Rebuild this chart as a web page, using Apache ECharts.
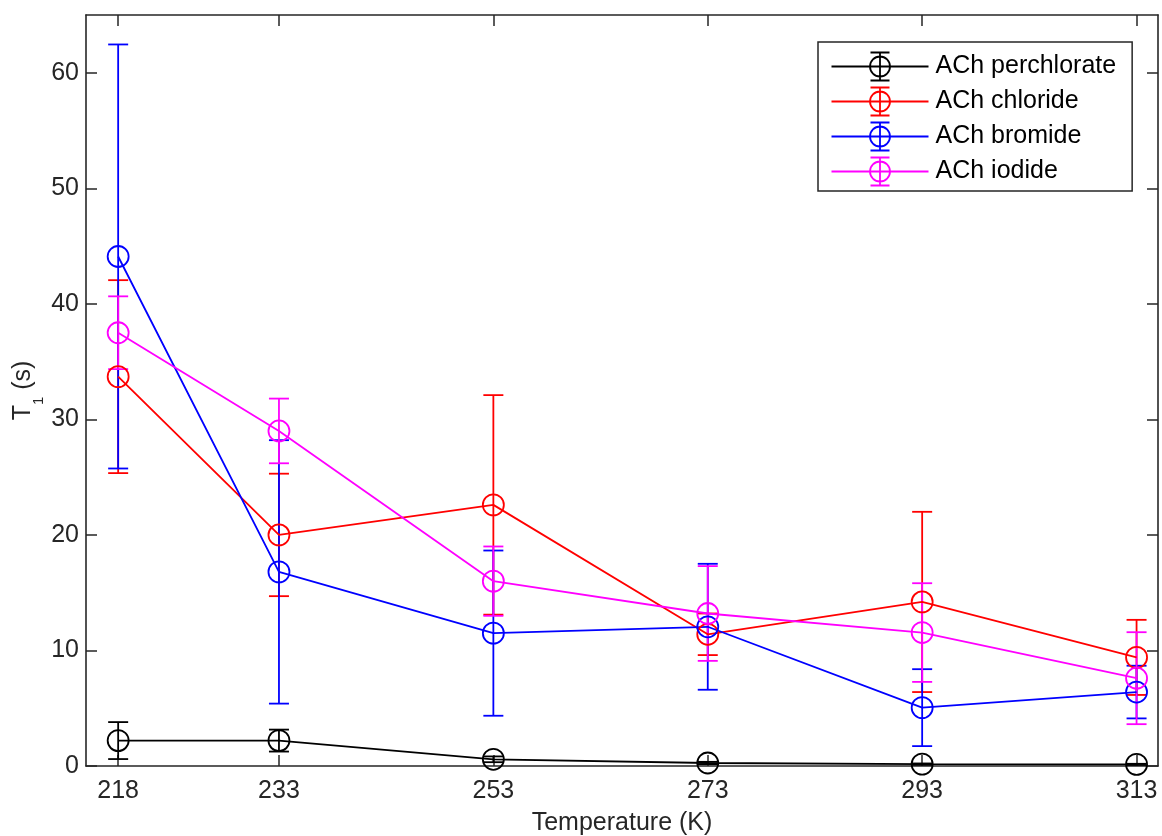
<!DOCTYPE html>
<html>
<head>
<meta charset="utf-8">
<script src="https://cdn.jsdelivr.net/npm/echarts@6/dist/echarts.min.js"></script>
<style>
  html, body { margin: 0; padding: 0; background: #ffffff; }
  #chart { width: 1162px; height: 836px; }
</style>
</head>
<body>
<div id="chart"></div>
<script>
// Spin-lattice relaxation time T1 of acetylcholine salts vs temperature
const temperatures = [218, 233, 253, 273, 293, 313];
const xTickLabels = [218, 233, 253, 273, 293, 313];
const yTickLabels = [0, 10, 20, 30, 40, 50, 60];

const seriesNames = ['ACh perchlorate', 'ACh chloride', 'ACh bromide', 'ACh iodide'];
const seriesColors = ['#000000', '#ff0000', '#0000ff', '#ff00ff'];

const perchlorateT1 = [2.2, 2.2, 0.58, 0.26, 0.16, 0.14];
const perchlorateErr = [1.6, 0.95, 0.25, 0.1, 0.06, 0.05];

const chlorideT1 = [33.7, 20.0, 22.6, 11.4, 14.2, 9.4];
const chlorideErr = [8.35, 5.3, 9.5, 1.8, 7.8, 3.25];

const bromideT1 = [44.1, 16.8, 11.5, 12.05, 5.05, 6.4];
const bromideErr = [18.35, 11.4, 7.15, 5.45, 3.33, 2.28];

const iodideT1 = [37.5, 29.0, 16.0, 13.2, 11.55, 7.6];
const iodideErr = [3.15, 2.8, 3.0, 4.1, 4.27, 3.98];

const seriesValues = [perchlorateT1, chlorideT1, bromideT1, iodideT1];
const seriesErrors = [perchlorateErr, chlorideErr, bromideErr, iodideErr];

const FONT = "'Liberation Sans', Arial, Helvetica, sans-serif";
const AXIS_COLOR = '#262626';
const LINE_W = 1.8;
const CAP_HALF = 10;

// legend glyph: line through a circle with a capped vertical error bar
const legendGlyph = 'path://M0 14 L97 14 M58.5 14 A10 10 0 1 1 38.5 14 A10 10 0 1 1 58.5 14 ' +
  'M48.5 0 L48.5 28 M39 0 L58 0 M39 28 L58 28';

function errorBarSeries(idx) {
  const color = seriesColors[idx];
  const data = temperatures.map((t, i) => [
    t,
    seriesValues[idx][i] - seriesErrors[idx][i],
    seriesValues[idx][i] + seriesErrors[idx][i]
  ]);
  return {
    type: 'custom',
    name: seriesNames[idx] + ' error',
    xAxisIndex: 0,
    yAxisIndex: 0,
    data: data,
    encode: { x: 0, y: [1, 2] },
    silent: true,
    renderItem: function (params, api) {
      const x = api.value(0);
      const lo = api.coord([x, api.value(1)]);
      const hi = api.coord([x, api.value(2)]);
      const style = { stroke: color, lineWidth: LINE_W, fill: 'none' };
      return {
        type: 'group',
        children: [
          { type: 'line', shape: { x1: hi[0], y1: hi[1], x2: lo[0], y2: lo[1] }, style: style },
          { type: 'line', shape: { x1: hi[0] - CAP_HALF, y1: hi[1], x2: hi[0] + CAP_HALF, y2: hi[1] }, style: style },
          { type: 'line', shape: { x1: lo[0] - CAP_HALF, y1: lo[1], x2: lo[0] + CAP_HALF, y2: lo[1] }, style: style }
        ]
      };
    }
  };
}

function lineSeries(idx) {
  const color = seriesColors[idx];
  return {
    type: 'line',
    name: seriesNames[idx],
    xAxisIndex: 0,
    yAxisIndex: 0,
    data: temperatures.map((t, i) => [t, seriesValues[idx][i]]),
    symbol: 'circle',
    symbolSize: 21,
    showAllSymbol: true,
    lineStyle: { color: color, width: LINE_W },
    itemStyle: { color: 'rgba(0,0,0,0)', borderColor: color, borderWidth: LINE_W },
    emphasis: { disabled: true },
    silent: true
  };
}

const series = [];
seriesNames.forEach((n, i) => {
  series.push(errorBarSeries(i));
  series.push(lineSeries(i));
});

const tickStyle = { show: true, inside: true, length: 11, lineStyle: { color: AXIS_COLOR, width: 1.5 } };
const axisLineStyle = { show: true, onZero: false, lineStyle: { color: AXIS_COLOR, width: 1.6 } };

const chart = echarts.init(document.getElementById('chart'), null, { renderer: 'canvas' });
chart.setOption({
  animation: false,
  backgroundColor: '#ffffff',
  textStyle: { fontFamily: FONT },
  grid: { left: 86, right: 4, top: 15, bottom: 70, containLabel: false, outerBoundsMode: 'none' },
  xAxis: [
    {
      type: 'value', position: 'bottom', min: 215, max: 315,
      name: 'Temperature (K)', nameLocation: 'middle', nameGap: 42, nameMoveOverlap: false,
      nameTextStyle: { fontSize: 25, color: AXIS_COLOR, fontFamily: FONT, lineHeight: 30 },
      axisLine: axisLineStyle,
      axisTick: Object.assign({}, tickStyle, { customValues: xTickLabels }),
      axisLabel: { show: true, customValues: xTickLabels, margin: 13, fontSize: 25, color: AXIS_COLOR, fontFamily: FONT },
      splitLine: { show: false }
    },
    {
      type: 'value', position: 'top', min: 215, max: 315,
      axisLine: axisLineStyle,
      axisTick: Object.assign({}, tickStyle, { customValues: xTickLabels }),
      axisLabel: { show: false },
      splitLine: { show: false }
    }
  ],
  yAxis: [
    {
      type: 'value', position: 'left', min: 0, max: 65,
      name: '{a|T}{s|1}{a| (s)}', nameLocation: 'middle', nameGap: 40, nameRotate: 90,
      nameMoveOverlap: false,
      nameTextStyle: {
        color: AXIS_COLOR, fontFamily: FONT,
        rich: {
          a: { fontSize: 25, lineHeight: 45, color: AXIS_COLOR, fontFamily: FONT, verticalAlign: 'middle' },
          s: { fontSize: 15, lineHeight: 15, color: AXIS_COLOR, fontFamily: FONT, verticalAlign: 'bottom' }
        }
      },
      axisLine: axisLineStyle,
      axisTick: Object.assign({}, tickStyle, { customValues: yTickLabels }),
      axisLabel: { show: true, customValues: yTickLabels, margin: 7, fontSize: 25, color: AXIS_COLOR, fontFamily: FONT },
      splitLine: { show: false }
    },
    {
      type: 'value', position: 'right', min: 0, max: 65,
      axisLine: axisLineStyle,
      axisTick: Object.assign({}, tickStyle, { customValues: yTickLabels }),
      axisLabel: { show: false },
      splitLine: { show: false }
    }
  ],
  legend: {
    orient: 'vertical',
    left: 818, top: 42,
    padding: [8, 16, 3, 11],
    itemGap: 2,
    itemWidth: 97, itemHeight: 28,
    backgroundColor: '#ffffff',
    borderColor: AXIS_COLOR, borderWidth: 1.5,
    selectedMode: false,
    textStyle: { fontSize: 25, lineHeight: 28, color: '#000000', fontFamily: FONT, padding: [0, 0, 0, 2] },
    data: seriesNames.map((n, i) => ({
      name: n,
      icon: legendGlyph,
      itemStyle: { color: 'none', borderColor: seriesColors[i], borderWidth: LINE_W }
    }))
  },
  series: series
});
</script>
</body>
</html>
